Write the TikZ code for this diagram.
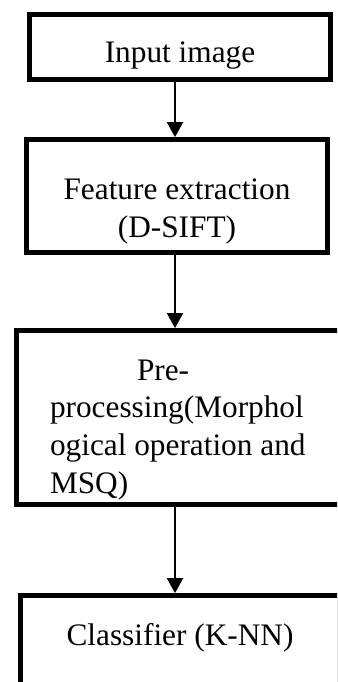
\documentclass[tikz,border=0pt]{standalone}
\usepackage{fontspec}
\setmainfont{Liberation Serif}
\usetikzlibrary{arrows.meta}
\tikzset{
	stage/.style={draw, rectangle, line width=4.8pt, inner sep=0pt, font=\fontsize{31.3}{37.7}\selectfont},
	flow/.style={line width=2pt, -{Triangle[width=16pt,length=15pt]}}
}

\begin{document}
\begin{tikzpicture}[x=1pt, y=-1pt]
			%%%%% START %%%%%
			
			\useasboundingbox (0, 0) rectangle (337, 682);
			\clip (0, 0) rectangle (337, 682);
			
			\node[stage, minimum width=301pt, minimum height=65pt, text height=32pt, text depth=0pt] (input) at (180, 47) {Input image};
			
			\node[stage, minimum width=301pt, minimum height=113pt, align=center, text height=90pt, text depth=8pt] (feat) at (177, 196) {Feature extraction\\(D-SIFT)};
			
			\node[stage, minimum height=174pt, inner xsep=33.5pt, text width=261.5pt, align=flush left, text height=30pt, text depth=105pt] (prep) at (180.75, 417.5) {\hspace*{87pt}Pre-\\processing(Morphol\\ogical operation and\\MSQ)};
			
			\node[stage, minimum width=319pt, minimum height=114.5pt, text height=25pt, text depth=40.5pt] (clf) at (180, 652.75) {Classifier (K-NN)};
			
			\coordinate (axis) at (175, 0);
			\draw[flow] (input.south -| axis) -- (feat.north -| axis);
			\draw[flow] (feat.south -| axis) -- (prep.north -| axis);
			\draw[flow] (prep.south -| axis) -- (clf.north -| axis);
			
			%%%%% END %%%%%
\end{tikzpicture}
\end{document}
